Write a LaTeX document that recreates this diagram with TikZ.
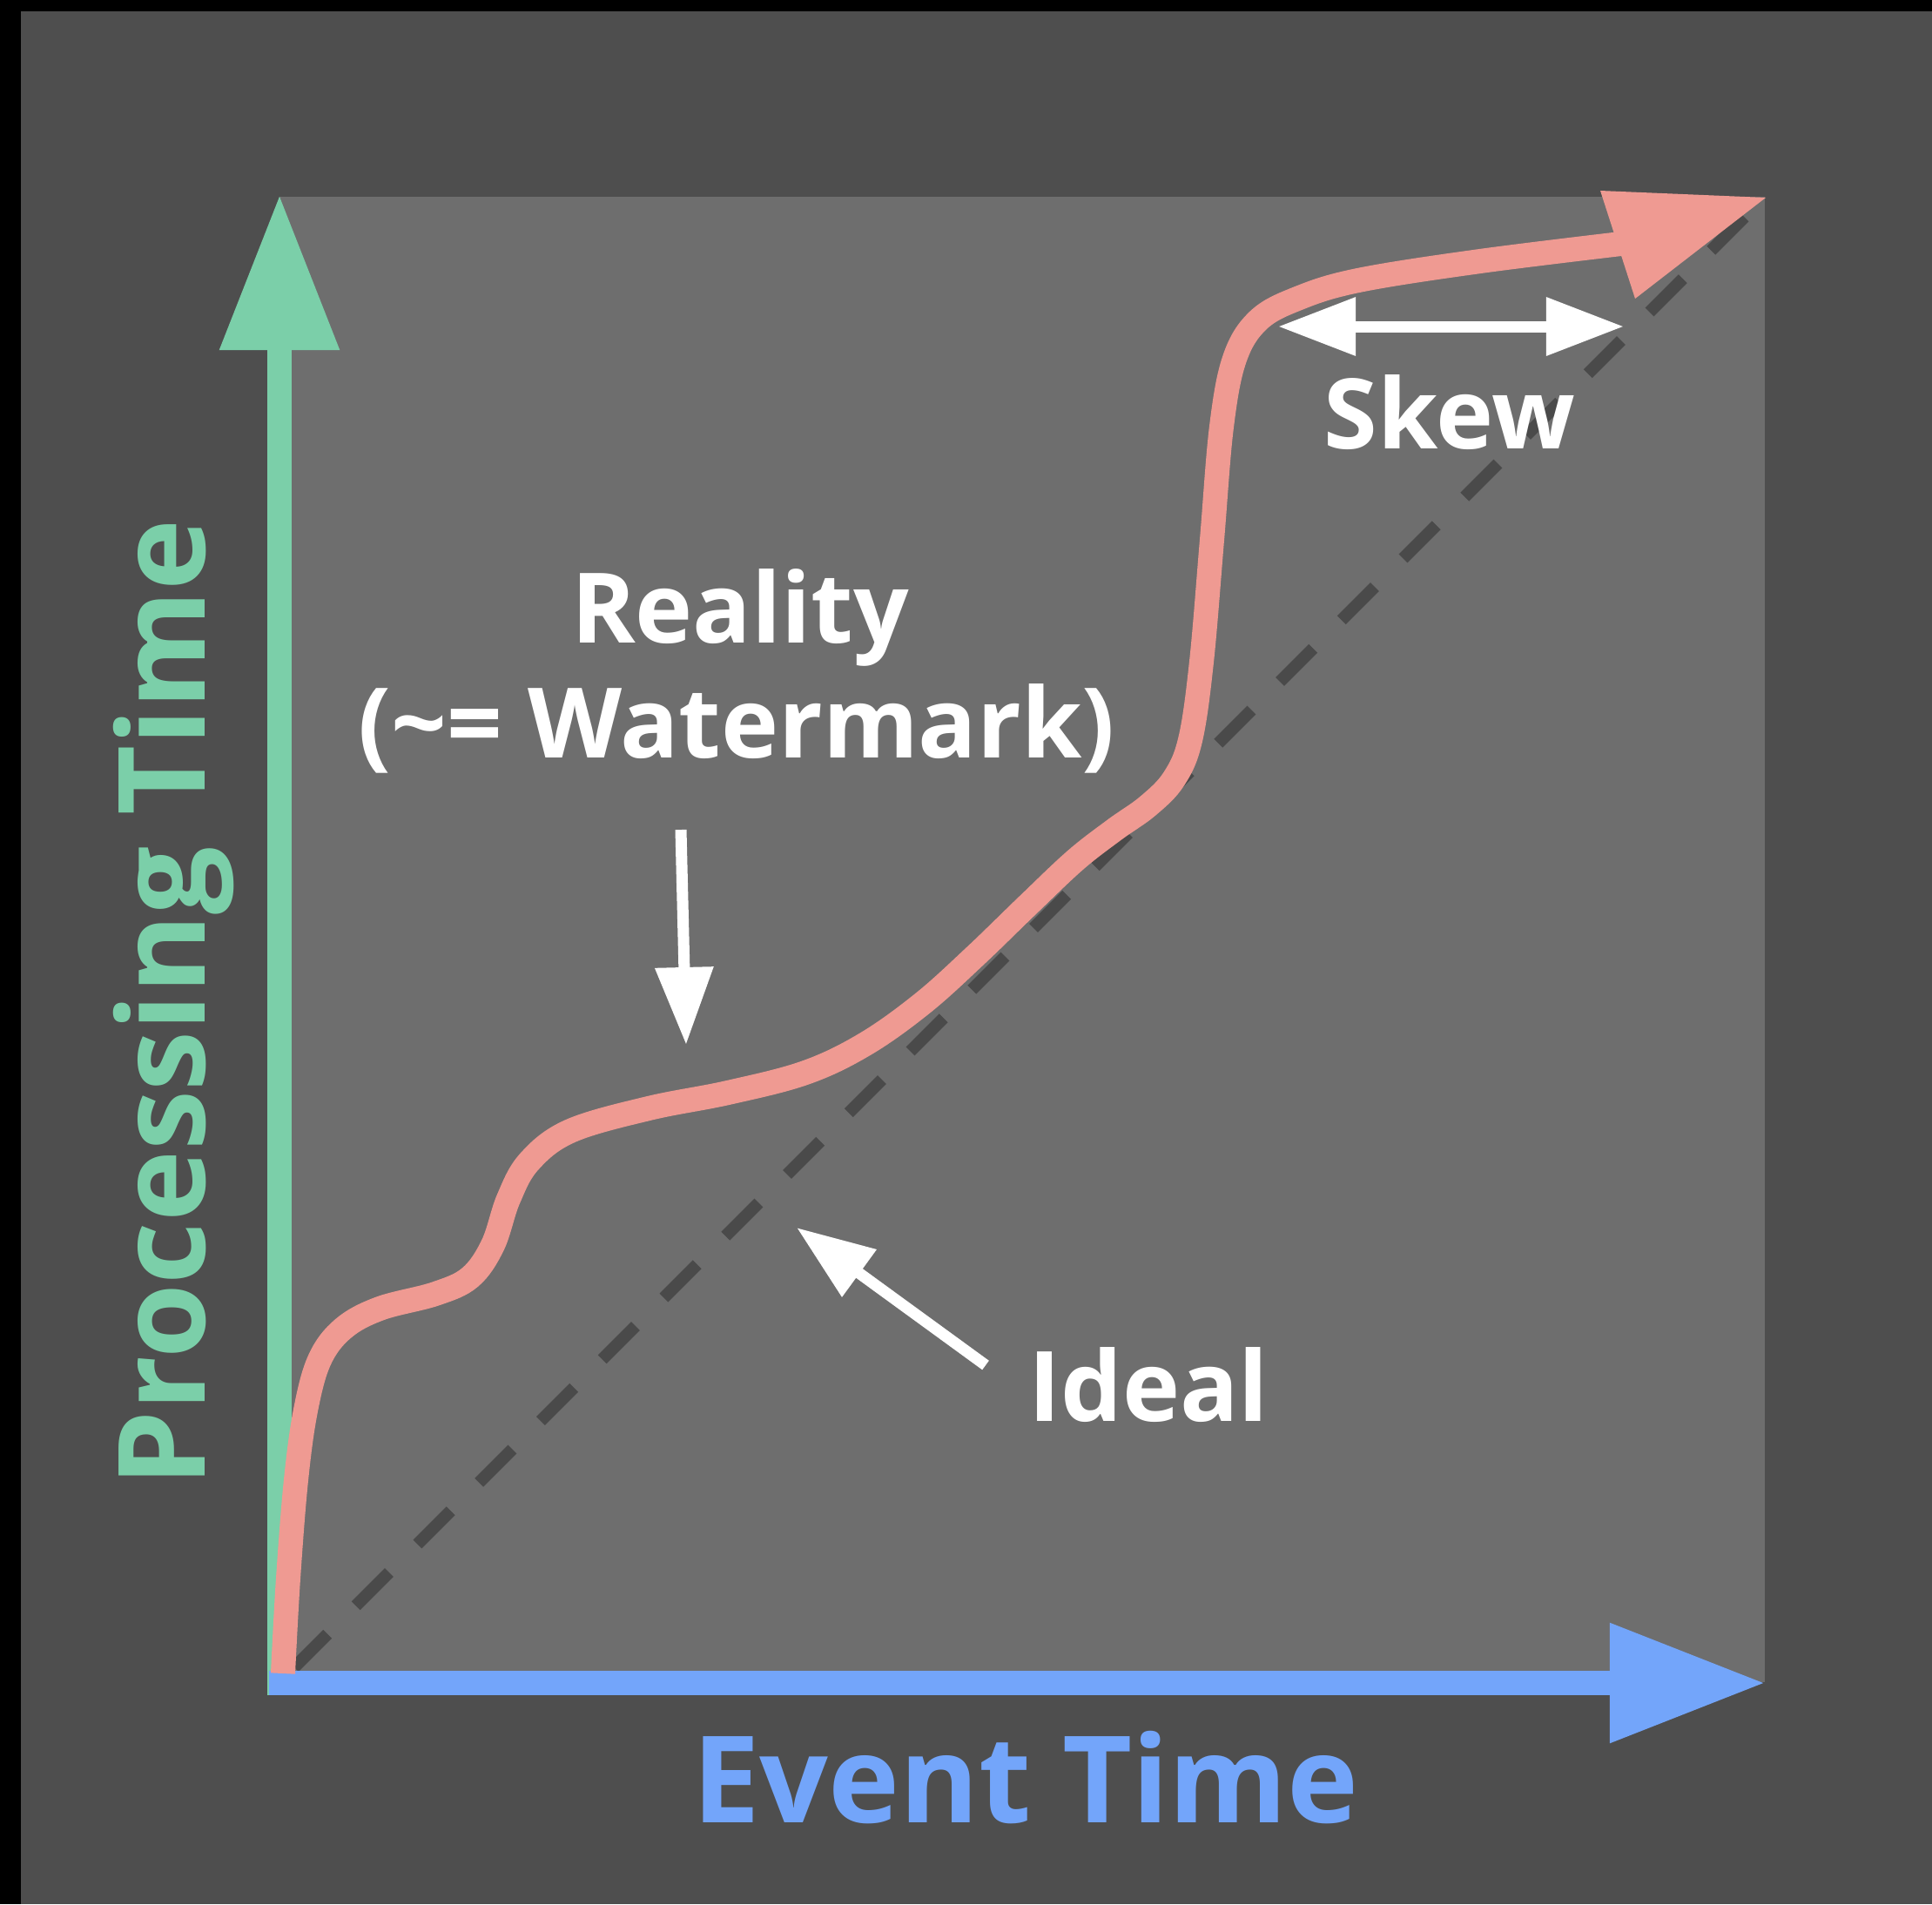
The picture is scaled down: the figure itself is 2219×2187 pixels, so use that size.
\documentclass[tikz,border=0pt]{standalone}
\usepackage{fontspec}
\setmainfont{Open Sans}
\usetikzlibrary{arrows.meta}
\definecolor{outerbg}{HTML}{000000}
\definecolor{panel}{HTML}{4E4E4E}
\definecolor{plotarea}{HTML}{6E6E6E}
\definecolor{axisgreen}{HTML}{7BCFA9}
\definecolor{axisblue}{HTML}{73A5FA}
\definecolor{realpink}{HTML}{EF9A92}
\definecolor{idealdash}{HTML}{4A4A4A}
\tikzset{
  bigaxis/.style={line width=0.285cm, -{Triangle[length=1.79cm,width=1.3cm]}},
  whitearrow/.style={draw=white, line width=0.13cm, -{Triangle[length=0.89cm,width=0.64cm]}},
  whitelabel/.style={text=white, inner sep=0pt, anchor=base, font=\fontsize{31.8}{38}\selectfont\bfseries},
  axislabel/.style={inner sep=0pt, anchor=base, font=\fontsize{39.4}{48}\selectfont\bfseries},
  idealline/.style={draw=idealdash, line width=0.14cm, dash pattern=on 0.54cm off 0.46cm},
  realcurve/.style={draw=realpink, line width=0.28cm, line join=round}
}
\begin{document}
\begin{tikzpicture}[x=0.01cm,y=-0.01cm]
\useasboundingbox (0,0) rectangle (2219,2187);
% backgrounds
\fill[outerbg] (0,0) rectangle (2219,2187);
\fill[panel] (24,13) rectangle (2219,2187);
\fill[plotarea] (321,226) rectangle (2027,1932);
% coordinates
\coordinate (origin) at (321,1933);
\coordinate (idealstart) at (338,1915);
\coordinate (idealend) at (2027,226);
\coordinate (ytail) at (321,1947);
\coordinate (ytip) at (321,223);
\coordinate (xtail) at (309,1933);
\coordinate (xtip) at (2028,1933);
\coordinate (rtip) at (2028,227);
\coordinate (rleft) at (1838,219);
\coordinate (rright) at (1878,343);
\coordinate (wmtail) at (782,953);
\coordinate (wmtip) at (788,1200);
\coordinate (idtail) at (1132,1568);
\coordinate (idtip) at (915,1410);
\coordinate (skl) at (1468,375);
\coordinate (skr) at (1865,375);
% ideal dashed line
\draw[idealline] (idealstart) -- (idealend);
% axes
\draw[bigaxis, draw=axisgreen, fill=axisgreen] (ytail) -- (ytip);
\draw[bigaxis, draw=axisblue, fill=axisblue] (xtail) -- (xtip);
% reality curve
\draw[realcurve] plot[smooth, tension=0.6] coordinates {
 (325,1922) (331,1813) (340,1700) (351,1620) (367,1562) (394,1526)
 (436,1503) (500,1486) (540,1467) (566,1430) (584,1377) (608,1334)
 (655,1299) (745,1273) (836,1255) (925,1232) (994,1199) (1060,1152)
 (1120,1098) (1180,1040) (1235,988) (1280,953) (1318,926) (1348,895)
 (1367,850) (1380,760) (1392,620) (1403,490) (1418,412) (1445,368)
 (1490,343) (1560,322) (1700,300) (1870,279)};
\fill[realpink] (rtip) -- (rleft) -- (rright) -- cycle;
% white annotation arrows
\draw[whitearrow, fill=white] (wmtail) -- (wmtip);
\draw[whitearrow, fill=white] (idtail) -- (idtip);
\draw[draw=white, fill=white, line width=0.13cm, {Triangle[length=0.89cm,width=0.64cm]}-{Triangle[length=0.89cm,width=0.64cm]}] (skl) -- (skr);
% labels
\node[whitelabel] (reality) at (850,738) {Reality};
\node[whitelabel] (watermark) at (846,870) {(\textasciitilde= Watermark)};
\node[whitelabel] (skew) at (1665,515) {Skew};
\node[whitelabel] (ideal) at (1319,1632) {Ideal};
\node[axislabel, text=axisblue] (eventtime) at (1178,2093) {Event Time};
\node[axislabel, text=axisgreen, rotate=90] (proctime) at (235,1152) {Processing Time};
\end{tikzpicture}
\end{document}
